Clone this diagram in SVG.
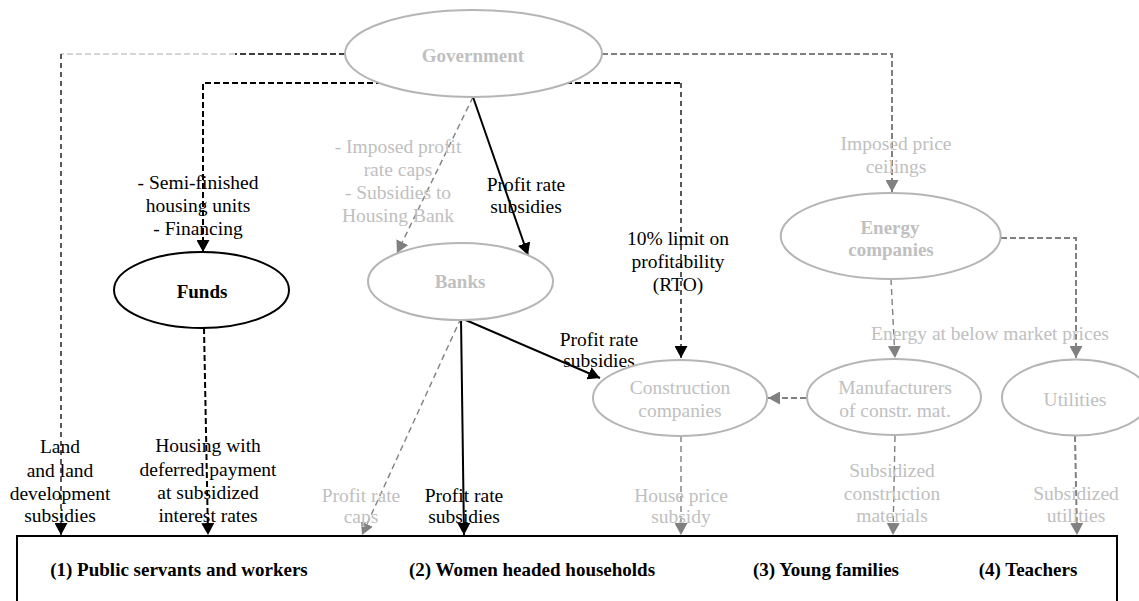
<svg xmlns="http://www.w3.org/2000/svg" width="1139" height="601" viewBox="0 0 1139 601">
  <style>
    text { font-family: "Liberation Serif", "Times New Roman", serif; font-size: 19.5px; text-anchor: middle; }
    .bold { font-weight: bold; font-size: 19px; }
    .dark { fill: #000000; }
    .light { fill: #c0c0c0; }
    .node-light { fill: #ffffff; stroke: #b5b5b5; stroke-width: 2; }
    .node-dark { fill: #ffffff; stroke: #000000; stroke-width: 2; }
    .line { fill: none; }
    .blk-solid { stroke: #000000; stroke-width: 2; }
    .blk-dash { stroke: #000000; stroke-width: 2; stroke-dasharray: 6 3; }
    .blk-thin { stroke: #000000; stroke-width: 1.3; stroke-dasharray: 5 4; }
    .pale-thin { stroke: #c8c8c8; stroke-width: 1.3; stroke-dasharray: 6 3; }
    .gry-dash { stroke: #808080; stroke-width: 2; stroke-dasharray: 6 3; }
    .gry-thin { stroke: #808080; stroke-width: 1.4; stroke-dasharray: 6 4; }
  </style>
  <defs>
    <marker id="arrow-black" markerUnits="userSpaceOnUse" markerWidth="13" markerHeight="13" refX="12" refY="6.5" orient="auto">
      <path d="M0,0 L12,6.5 L0,13 Z" fill="#000000"/>
    </marker>
    <marker id="arrow-gray" markerUnits="userSpaceOnUse" markerWidth="13" markerHeight="13" refX="12" refY="6.5" orient="auto">
      <path d="M0,0 L12,6.5 L0,13 Z" fill="#808080"/>
    </marker>
  </defs>

  <rect width="1139" height="601" fill="#ffffff"/>

  <!-- connectors -->
  <g id="connectors">
    <!-- Government to beneficiaries: land subsidies -->
    <path class="line blk-dash" style="stroke-width:1.6" d="M345,54 H235"/>
    <path class="line pale-thin" d="M235,54 H61"/>
    <path class="line blk-thin" d="M61,54 V535" marker-end="url(#arrow-black)"/>
    <!-- Government to Funds -->
    <path class="line blk-dash" d="M382,83 H203 V252" marker-end="url(#arrow-black)"/>
    <!-- Funds to beneficiaries -->
    <path class="line blk-dash" d="M204,328 L208,535" marker-end="url(#arrow-black)"/>
    <!-- Government to Construction companies -->
    <path class="line blk-dash" d="M566,83 H681"/>
    <path class="line blk-thin" d="M681,83 V358" marker-end="url(#arrow-black)"/>
    <!-- Government to Energy companies -->
    <path class="line gry-dash" d="M602,54 H892 V192" marker-end="url(#arrow-gray)"/>
    <!-- Government to Banks -->
    <path class="line gry-thin" d="M473,97 L397,253" marker-end="url(#arrow-gray)"/>
    <path class="line blk-solid" d="M473,97 L528,255" marker-end="url(#arrow-black)"/>
    <!-- Banks outgoing -->
    <path class="line blk-solid" d="M461,318 L600,378" marker-end="url(#arrow-black)"/>
    <path class="line blk-solid" d="M461,318 L464,535" marker-end="url(#arrow-black)"/>
    <path class="line gry-thin" d="M461,318 L362,535" marker-end="url(#arrow-gray)"/>
    <!-- Construction companies to beneficiaries -->
    <path class="line gry-thin" d="M681,436 V535" marker-end="url(#arrow-gray)"/>
    <!-- Manufacturers to Construction companies -->
    <path class="line gry-dash" d="M806,398 H768" marker-end="url(#arrow-gray)"/>
    <!-- Energy companies outgoing -->
    <path class="line gry-thin" d="M891,279 L895,358" marker-end="url(#arrow-gray)"/>
    <path class="line gry-dash" d="M1001,238 H1076 V358" marker-end="url(#arrow-gray)"/>
    <!-- Manufacturers and Utilities to beneficiaries -->
    <path class="line gry-thin" d="M895,436 L893,535" marker-end="url(#arrow-gray)"/>
    <path class="line gry-dash" d="M1075,436 L1077,535" marker-end="url(#arrow-gray)"/>
  </g>

  <!-- connector labels -->
  <g id="labels">
    <text class="dark"><tspan x="198" y="189">- Semi-finished</tspan><tspan x="198" y="212">housing units</tspan><tspan x="198" y="235">- Financing</tspan></text>
    <text class="light"><tspan x="398" y="153">- Imposed profit</tspan><tspan x="398" y="176">rate caps</tspan><tspan x="398" y="199">- Subsidies to</tspan><tspan x="398" y="222">Housing Bank</tspan></text>
    <text class="dark"><tspan x="526" y="191">Profit rate</tspan><tspan x="526" y="213">subsidies</tspan></text>
    <text class="dark"><tspan x="678" y="245">10% limit on</tspan><tspan x="678" y="268">profitability</tspan><tspan x="678" y="291">(RTO)</tspan></text>
    <text class="light"><tspan x="896" y="150">Imposed price</tspan><tspan x="896" y="173">ceilings</tspan></text>
    <text class="light" x="990" y="340">Energy at below market prices</text>
    <text class="dark"><tspan x="599" y="346">Profit rate</tspan><tspan x="599" y="367">subsidies</tspan></text>
    <text class="dark"><tspan x="60" y="453">Land</tspan><tspan x="60" y="477">and land</tspan><tspan x="60" y="500">development</tspan><tspan x="60" y="522">subsidies</tspan></text>
    <text class="dark"><tspan x="208" y="452">Housing with</tspan><tspan x="208" y="476">deferred payment</tspan><tspan x="208" y="499">at subsidized</tspan><tspan x="208" y="522">interest rates</tspan></text>
    <text class="light"><tspan x="361" y="502">Profit rate</tspan><tspan x="361" y="523">caps</tspan></text>
    <text class="dark"><tspan x="464" y="502">Profit rate</tspan><tspan x="464" y="523">subsidies</tspan></text>
    <text class="light"><tspan x="681" y="502">House price</tspan><tspan x="681" y="523">subsidy</tspan></text>
    <text class="light"><tspan x="892" y="477">Subsidized</tspan><tspan x="892" y="500">construction</tspan><tspan x="892" y="522">materials</tspan></text>
    <text class="light"><tspan x="1076" y="500">Subsidized</tspan><tspan x="1076" y="522">utilities</tspan></text>
  </g>

  <!-- nodes -->
  <g id="government">
    <ellipse class="node-light" cx="473.5" cy="53.5" rx="128.5" ry="43.5"/>
    <text class="bold light" x="473" y="62">Government</text>
  </g>
  <g id="funds">
    <ellipse class="node-dark" cx="201.5" cy="290" rx="87.5" ry="38"/>
    <text class="bold dark" x="202" y="298">Funds</text>
  </g>
  <g id="banks">
    <ellipse class="node-light" cx="460.5" cy="281.5" rx="92.5" ry="38.5"/>
    <text class="bold light" x="460" y="288">Banks</text>
  </g>
  <g id="energy-companies">
    <ellipse class="node-light" cx="890.7" cy="236" rx="110" ry="43"/>
    <text class="bold light"><tspan x="890" y="234">Energy</tspan><tspan x="891" y="256">companies</tspan></text>
  </g>
  <g id="construction-companies">
    <ellipse class="node-light" cx="680" cy="398" rx="87" ry="38"/>
    <text class="light"><tspan x="680" y="394">Construction</tspan><tspan x="680" y="417">companies</tspan></text>
  </g>
  <g id="manufacturers">
    <ellipse class="node-light" cx="894" cy="397" rx="87" ry="38"/>
    <text class="light"><tspan x="895" y="394">Manufacturers</tspan><tspan x="895" y="417">of constr. mat.</tspan></text>
  </g>
  <g id="utilities">
    <ellipse class="node-light" cx="1076" cy="397.5" rx="74" ry="38"/>
    <text class="light" x="1075" y="406">Utilities</text>
  </g>
  <g id="beneficiaries">
    <rect x="17" y="536" width="1100" height="90" fill="#ffffff" stroke="#000000" stroke-width="2"/>
    <text class="bold dark" x="179" y="576">(1) Public servants and workers</text>
    <text class="bold dark" x="532" y="576">(2) Women headed households</text>
    <text class="bold dark" x="826" y="576">(3) Young families</text>
    <text class="bold dark" x="1028" y="576">(4) Teachers</text>
  </g>
</svg>
